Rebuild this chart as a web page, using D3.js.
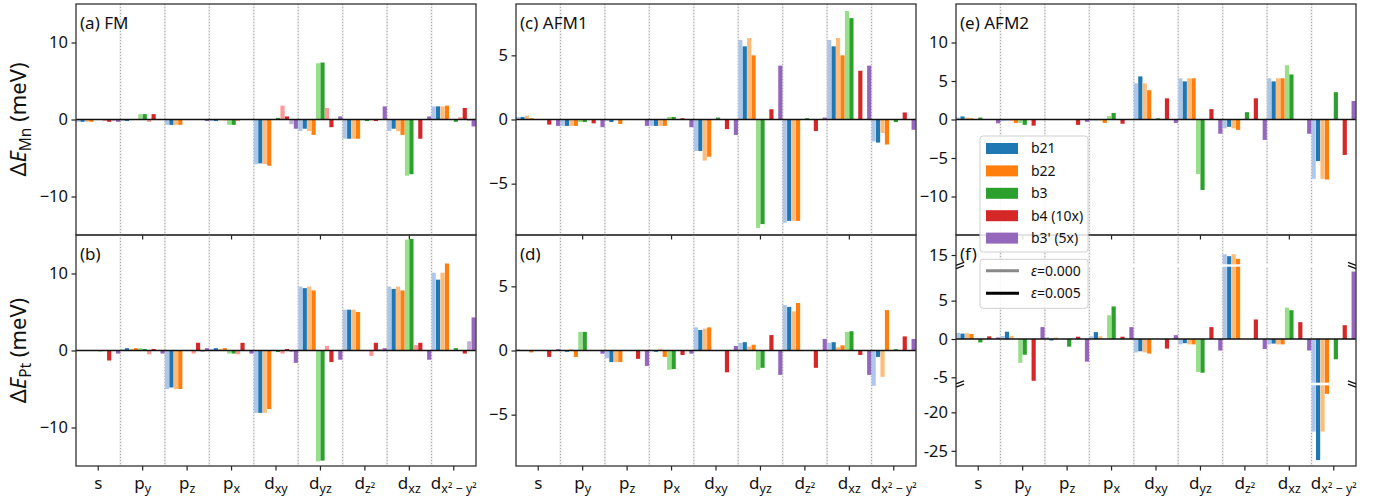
<!DOCTYPE html>
<html>
<head>
<meta charset="utf-8">
<script src="https://cdn.jsdelivr.net/npm/d3@7"></script>
<style>
  body { margin: 0; background: #fff; }
  svg text { font-family: "Noto Sans", "DejaVu Sans", sans-serif; fill: #111; }
</style>
</head>
<body>
<svg id="chart" width="1393" height="502"></svg>
<script>
// orbital categories (tick label = main letter + subscript)
const orbitalMain = ["s", "p", "p", "p", "d", "d", "d", "d", "d"];
const orbitalSub  = ["", "y", "z", "x", "xy", "yz", "z²", "xz", "x² − y²"];

// series, each with two strain values (light = eps 0.000, dark = eps 0.005)
const seriesNames = ["b21", "b22", "b3", "b4 (10x)", "b3' (5x)"];
const darkColors  = ["#1f77b4", "#ff7f0e", "#2ca02c", "#d62728", "#9467bd"];
const lightColors = ["#aec7e8", "#ffbb78", "#98df8a", "#ff9896", "#c5b0d5"];
const epsLabels   = ["0.000", "0.005"];

// rows: b21 e0, b21 e5, b22 e0, b22 e5, b3 e0, b3 e5, b4 e0, b4 e5, b3' e0, b3' e5
// cols: s, py, pz, px, dxy, dyz, dz2, dxz, dx2-y2   (meV)
const fmMn = [
  [-0.3, -0.2, -0.7, -0.2, -5.8, -1.5, -2.5, -1.5, 1.7],
  [-0.3, -0.2, -0.7, -0.2, -5.7, -1.2, -2.5, -1.2, 1.7],
  [-0.3, -0.1, -0.7, -0.1, -5.8, -1.5, -2.5, -1.5, 1.7],
  [-0.3, 0, -0.7, -0.1, -6.0, -2.0, -2.5, -2.0, 1.8],
  [0, 0.7, 0, -0.7, 0, 7.3, -0.1, -7.3, 0],
  [0, 0.7, 0, -0.7, 0.2, 7.4, -0.2, -7.1, -0.3],
  [-0.2, -0.3, 0, -0.2, 1.8, 1.5, -0.1, 0, 0.3],
  [-0.3, 0.7, 0, 0, 0.4, -1.0, -0.2, -2.5, 1.5],
  [-0.2, 0, 0, 0, -0.6, 0, 0, 0, -0.2],
  [-0.3, 0, -0.2, 0, -1.2, 0.4, 1.7, 0.4, -0.9]
];
const fmPt = [
  [0, 0.15, -5.0, 0.2, -8.1, 8.3, 5.3, 8.3, 10.1],
  [0, 0.3, -4.8, 0.3, -8.1, 8.1, 5.3, 8.0, 9.2],
  [0, 0.2, -5.0, 0.2, -8.1, 8.3, 5.3, 8.3, 10.1],
  [0, 0.3, -5.0, 0.3, -7.6, 7.8, 5.0, 7.8, 11.3],
  [0, 0.3, 0, -0.4, 0, -14.4, 0, 14.4, 0],
  [-0.1, 0.2, 0, -0.4, -0.2, -14.3, 0, 14.5, 0.3],
  [0, -0.5, -0.4, -0.5, -0.4, 0.6, -0.7, 0.7, 0],
  [-1.3, 0.2, 1.0, 1.0, 0.2, -1.5, 1.0, 1.0, -0.4],
  [0, 0, -0.2, 0, -0.2, 0, 0.2, 0, 1.2],
  [-0.4, -0.4, 0.3, -0.4, -1.6, -1.2, 0.3, -1.2, 4.3]
];
const afm1Mn = [
  [0.2, -0.5, -0.1, -0.5, -2.45, 6.2, -8.05, 6.2, -1.7],
  [0.2, -0.5, -0.2, -0.5, -2.45, 5.7, -7.9, 5.7, -1.8],
  [0.3, -0.5, 0, -0.5, -3.2, 6.35, -7.9, 6.35, -1.05],
  [0.1, -0.5, -0.35, -0.5, -2.9, 5.0, -7.9, 5.0, -1.95],
  [0, -0.2, 0, 0.2, 0, -8.45, 0, 8.45, 0],
  [0, -0.2, 0, 0.2, 0.15, -8.15, 0.1, 7.9, -0.2],
  [0, 0, 0, 0, 0, 0, 0, 0, 0],
  [-0.4, -0.3, 0, 0.1, -0.75, 0.8, -0.9, 3.8, 0.55],
  [0, 0, 0, 0, 0, 0, 0, 0, 0],
  [-0.5, -0.6, -0.5, -0.6, -1.2, 4.2, 0.15, 4.2, -0.8]
];
const afm1Pt = [
  [0.1, 0, -0.6, 0, 1.8, 0.6, 3.55, 0.6, -2.75],
  [0, -0.1, -0.9, -0.1, 1.6, 0.65, 3.4, 0.65, -0.5],
  [0, 0.1, -0.9, 0.1, 1.7, 0.3, 3.05, 0.25, -2.05],
  [-0.15, -0.5, -0.9, -0.5, 1.8, 0.45, 3.7, 0.4, 3.15],
  [0, 1.45, 0, -1.5, 0, -1.5, 0, 1.45, 0],
  [0, 1.45, 0, -1.45, 0, -1.35, 0, 1.5, 0.1],
  [0, 0, 0, 0, 0, 0, 0, 0, 0],
  [-0.5, 0, -0.65, -0.35, -1.7, 1.2, -1.35, -0.35, 1.1],
  [0, 0, 0, 0, 0, 0, 0, 0, 0],
  [0.1, -0.25, -1.2, -0.25, 0.35, -1.9, 0.9, -1.9, 0.9]
];
const afm2Mn = [
  [0.25, -0.2, 0, -0.15, 4.7, 5.35, -1.15, 5.35, -7.7],
  [0.4, -0.1, 0, -0.1, 5.6, 4.95, -0.95, 4.95, -5.4],
  [0.25, -0.2, 0, -0.15, 4.7, 5.35, -1.15, 5.35, -7.7],
  [0.15, -0.45, 0, -0.45, 3.8, 5.35, -1.35, 5.35, -7.8],
  [0, -0.45, 0, 0.45, 0, -7.1, 0, 7.05, 0],
  [0.25, -0.7, 0, 0.85, 0.15, -9.15, 0.95, 5.85, 3.55],
  [0, 0, 0, 0, 0, 0, 0, 0, 0],
  [0, -0.8, -0.7, -0.55, 2.75, 1.35, 2.75, 0, -4.6],
  [0, 0, 0, 0, 0, 0, 0, 0, 0],
  [-0.5, 0, -0.3, 0, -0.45, -1.85, -2.65, -1.85, 2.4]
];
const afm2Pt = [
  [0.8, 0.4, 0.25, 0.35, -1.75, -0.7, 15.1, -0.7, -22.5],
  [0.7, 0.95, -0.2, 0.9, -1.6, -0.55, 14.85, -0.6, -26.2],
  [0.75, 0.4, 0.2, 0.35, -1.75, -0.7, 15.1, -0.7, -22.5],
  [0.65, 0, 0, 0, -1.9, -0.7, 14.5, -0.7, -17.6],
  [0, -3.1, 0, 3.1, 0, -4.3, 0, 4.1, 0],
  [-0.45, -2.05, -1.0, 4.25, 0, -4.4, 0, 3.75, -2.65],
  [0, 0, 0, 0, 0, 0, 0, 0, 0],
  [0.35, -5.45, 0.3, 0.3, -1.25, 1.55, 2.55, 2.2, 1.8],
  [0, 0, 0, 0, 0, 0, 0, 0, 0],
  [0.2, 1.55, -2.95, 1.55, 0.5, -1.5, -1.3, -1.5, 8.8]
];

// y tick values per panel
const ticksWide   = [-10, 0, 10];
const ticksNarrow = [-5, 0, 5];
const ticksAfm2   = [-10, -5, 0, 5, 10];
const ticksBroken = [-25, -20, -5, 0, 5, 15];
// broken axis of panel (f): domain pieces and the gaps between them
const brokenDomain = [-26.97, -16.49, -5.70, 9.43, 13.79, 17.61];

// layout
const colLeft = [76, 516, 956], panelW = 400;
const rowTop = [4, 235], panelH = 231;

const svg = d3.select("#chart");
const fmtMinus = d3.format("d");

const panels = [
  {title: "(a) FM",   data: fmMn,   col: 0, row: 0, y: d3.scaleLinear().domain([-15, 15]), ticks: ticksWide},
  {title: "(b)",      data: fmPt,   col: 0, row: 1, y: d3.scaleLinear().domain([-15, 15]), ticks: ticksWide},
  {title: "(c) AFM1", data: afm1Mn, col: 1, row: 0, y: d3.scaleLinear().domain([-9, 9]),   ticks: ticksNarrow},
  {title: "(d)",      data: afm1Pt, col: 1, row: 1, y: d3.scaleLinear().domain([-9, 9]),   ticks: ticksNarrow},
  {title: "(e) AFM2", data: afm2Mn, col: 2, row: 0, y: d3.scaleLinear().domain([-15, 15]), ticks: ticksAfm2},
  {title: "(f)",      data: afm2Pt, col: 2, row: 1, y: d3.scaleLinear().domain(brokenDomain), ticks: ticksBroken,
   rangeOffsets: [231, 150.3, 147.7, 31.7, 29.3, 0], broken: true, fmt: d => String(d)}
];

panels.forEach(drawPanel);

function drawPanel(p) {
  const x0 = colLeft[p.col], top = rowTop[p.row], bottom = top + panelH;
  const g = svg.append("g");

  const x = d3.scaleBand().domain(d3.range(orbitalMain.length)).range([x0, x0 + panelW]);
  const slot = d3.scaleBand().domain(d3.range(p.data.length)).range([0, x.bandwidth()]);
  const y = p.y.copy().range(p.rangeOffsets ? p.rangeOffsets.map(r => top + r) : [bottom, top]);

  const clipId = "clip" + p.col + p.row;
  g.append("clipPath").attr("id", clipId).append("rect")
    .attr("x", x0).attr("y", top).attr("width", panelW).attr("height", panelH);
  const plot = g.append("g").attr("clip-path", `url(#${clipId})`);

  // group separators
  const seps = d3.range(1, orbitalMain.length);
  plot.selectAll("line.gridbg").data(seps).join("line")
    .attr("x1", i => x(i)).attr("x2", i => x(i))
    .attr("y1", top).attr("y2", bottom)
    .attr("stroke", "#ebebeb").attr("stroke-width", 2);
  plot.selectAll("line.grid").data(seps).join("line")
    .attr("x1", i => x(i)).attr("x2", i => x(i))
    .attr("y1", top).attr("y2", bottom)
    .attr("stroke", "#9a9a9a").attr("stroke-width", 0.8)
    .attr("stroke-dasharray", "1,2");

  // bars
  const bars = [];
  p.data.forEach((row, k) => row.forEach((v, i) => bars.push({k, i, v})));
  plot.selectAll("rect.bar").data(bars).join("rect")
    .attr("x", d => x(d.i) + slot(d.k))
    .attr("width", slot.bandwidth() * 0.94)
    .attr("y", d => Math.min(y(0), y(d.v)))
    .attr("height", d => Math.abs(y(d.v) - y(0)))
    .attr("fill", d => (d.k % 2 ? darkColors : lightColors)[Math.floor(d.k / 2)]);

  // zero line
  plot.append("line")
    .attr("x1", x0).attr("x2", x0 + panelW)
    .attr("y1", y(0)).attr("y2", y(0))
    .attr("stroke", "#111").attr("stroke-width", 1.5);

  // axis break bands
  if (p.broken) {
    const r = p.rangeOffsets;
    [[r[2], r[1]], [r[4], r[3]]].forEach(([a, b]) => {
      plot.append("rect")
        .attr("x", x0).attr("width", panelW)
        .attr("y", top + a).attr("height", b - a)
        .attr("fill", "#fff");
    });
  }

  // frame
  g.append("rect")
    .attr("x", x0).attr("y", top).attr("width", panelW).attr("height", panelH)
    .attr("fill", "none").attr("stroke", "#333").attr("stroke-width", 1.3);

  if (p.broken) {
    const r = p.rangeOffsets;
    [(r[1] + r[2]) / 2, (r[3] + r[4]) / 2].forEach(yb => {
      [[x0, 1], [x0 + panelW, -1]].forEach(([xs, dir]) => {
        [-1.6, 1.6].forEach(off => {
          g.append("line")
            .attr("x1", xs).attr("x2", xs + dir * 8)
            .attr("y1", top + yb + off + 1.5).attr("y2", top + yb + off - 1.5)
            .attr("stroke", "#111").attr("stroke-width", 1.3);
        });
      });
    });
  }

  // y axis
  const yAxis = g.append("g")
    .attr("transform", `translate(${x0},0)`)
    .call(d3.axisLeft(y).tickValues(p.ticks).tickSize(4.5).tickPadding(3.5)
      .tickFormat(p.fmt || fmtMinus));
  yAxis.select(".domain").remove();
  yAxis.selectAll(".tick line").attr("stroke", "#222").attr("stroke-width", 1.2);
  yAxis.selectAll(".tick text").attr("font-size", 16.5).attr("fill", "#111")
    .style("font-family", '"Noto Sans", sans-serif');

  // x ticks
  if (p.row === 0) {
    const odd = d3.range(1, orbitalMain.length, 2);
    g.selectAll("line.topTick").data(odd).join("line")
      .attr("x1", i => x(i) + x.bandwidth() / 2).attr("x2", i => x(i) + x.bandwidth() / 2)
      .attr("y1", bottom).attr("y2", bottom + 4.5)
      .attr("stroke", "#222").attr("stroke-width", 1.2);
  } else {
    const idx = d3.range(orbitalMain.length);
    g.selectAll("line.xTick").data(idx).join("line")
      .attr("x1", i => x(i) + x.bandwidth() / 2).attr("x2", i => x(i) + x.bandwidth() / 2)
      .attr("y1", bottom).attr("y2", bottom + 4.5)
      .attr("stroke", "#222").attr("stroke-width", 1.2);
    const lbl = g.selectAll("text.xLabel").data(idx).join("text")
      .attr("x", i => x(i) + x.bandwidth() / 2)
      .attr("y", bottom + 23)
      .attr("text-anchor", "middle")
      .attr("font-size", 17);
    lbl.append("tspan").text(i => orbitalMain[i]);
    lbl.append("tspan").attr("font-size", 12.5).attr("dy", 4).text(i => orbitalSub[i]);
  }

  // panel title
  g.append("text")
    .attr("x", x0 + 4).attr("y", top + 25)
    .attr("font-size", 17)
    .text(p.title);
}

// y labels
const yLabels = [["Mn", rowTop[0] + panelH / 2], ["Pt", rowTop[1] + panelH / 2]];
yLabels.forEach(([sub, cy]) => {
  const t = svg.append("text")
    .attr("transform", `translate(26,${cy}) rotate(-90)`)
    .attr("text-anchor", "middle")
    .attr("font-size", 22);
  t.append("tspan").text("Δ");
  t.append("tspan").attr("font-style", "italic").text("E");
  t.append("tspan").attr("font-size", 15.5).attr("dy", 4.5).text(sub);
  t.append("tspan").attr("dy", -4.5).text(" (meV)");
});

// legend: series
const leg = svg.append("g");
leg.append("rect")
  .attr("x", 980).attr("y", 136).attr("width", 108).attr("height", 116).attr("rx", 3)
  .attr("fill", "#fff").attr("fill-opacity", 0.85).attr("stroke", "#d0d0d0");
seriesNames.forEach((name, s) => {
  const cy = 148.5 + s * 22.4;
  leg.append("rect")
    .attr("x", 986).attr("y", cy - 5.5).attr("width", 32).attr("height", 11)
    .attr("fill", darkColors[s]);
  leg.append("text")
    .attr("x", 1031).attr("y", cy).attr("dy", "0.35em")
    .attr("font-size", 14).text(name);
});

// legend: strain
const leg2 = svg.append("g");
leg2.append("rect")
  .attr("x", 980).attr("y", 259.3).attr("width", 108).attr("height", 49).attr("rx", 3)
  .attr("fill", "#fff").attr("fill-opacity", 0.85).attr("stroke", "#d0d0d0");
const epsColors = ["#888", "#000"];
epsLabels.forEach((lab, e) => {
  const cy = 270.7 + e * 22.6;
  leg2.append("line")
    .attr("x1", 986).attr("x2", 1019).attr("y1", cy).attr("y2", cy)
    .attr("stroke", epsColors[e]).attr("stroke-width", 3);
  const t = leg2.append("text")
    .attr("x", 1031).attr("y", cy).attr("dy", "0.35em").attr("font-size", 14);
  t.append("tspan").attr("font-style", "italic").text("ε");
  t.append("tspan").text("=" + lab);
});
</script>
</body>
</html>
